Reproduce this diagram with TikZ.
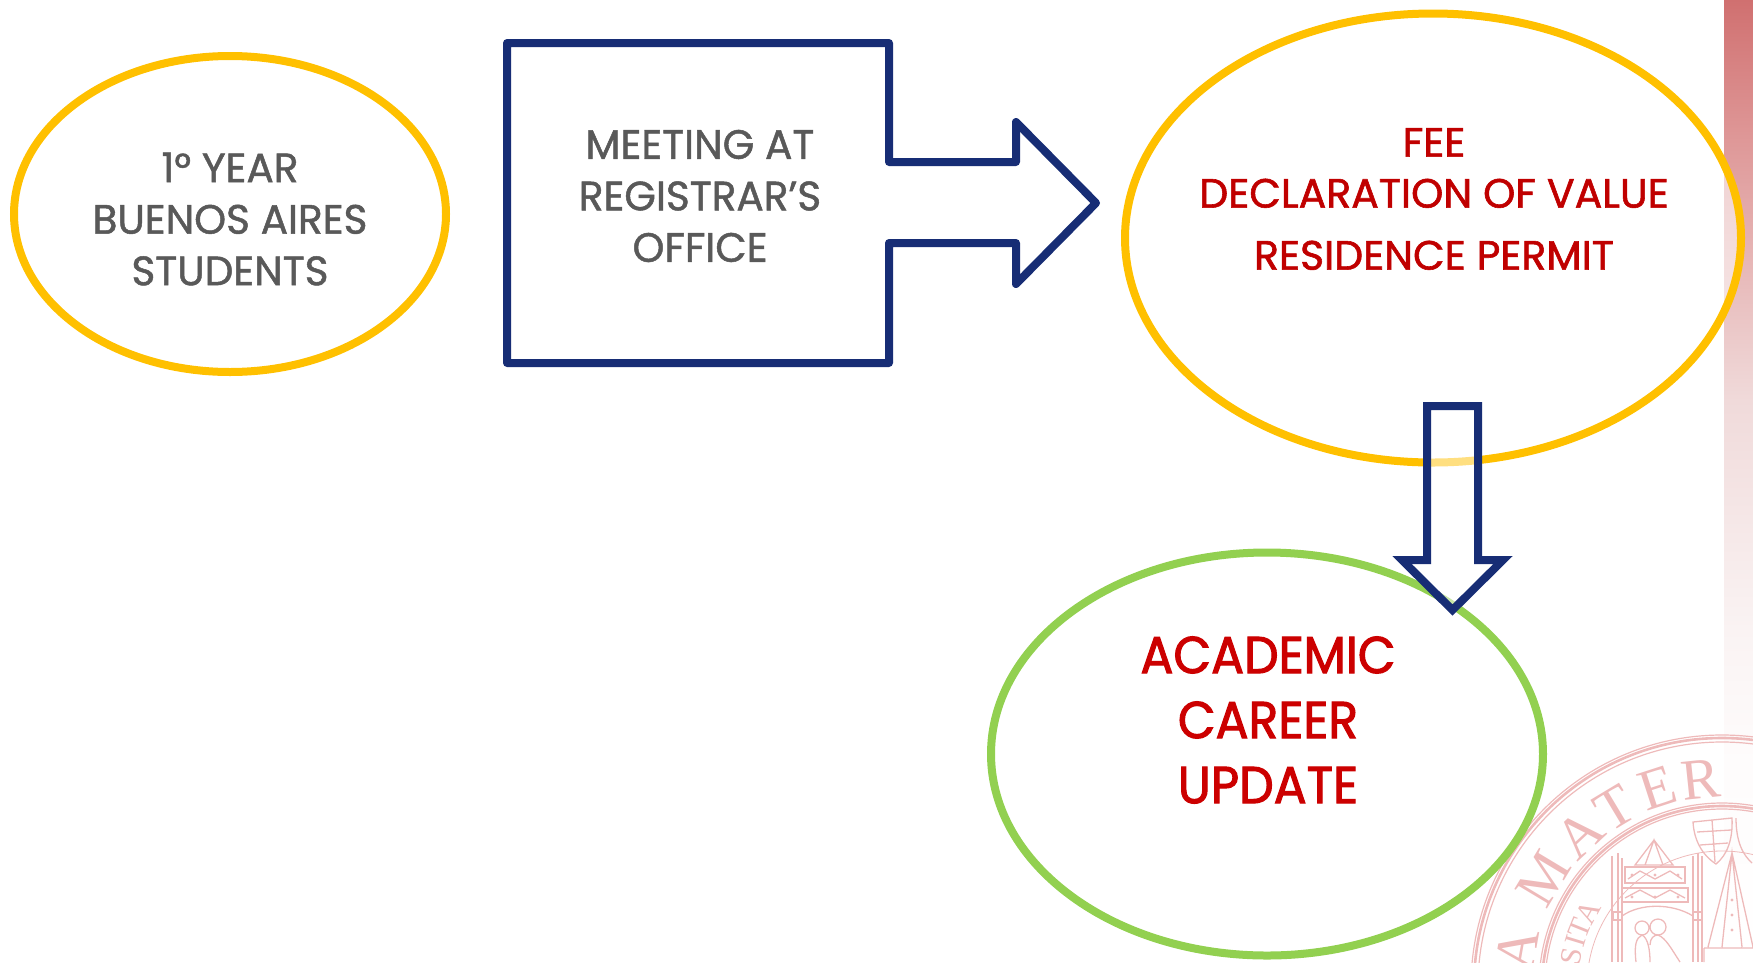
\documentclass[tikz,border=0pt]{standalone}
\usepackage{fontspec}
\usetikzlibrary{shapes.geometric,calc}
\setmainfont{Liberation Serif}
\newfontfamily\popg{Poppins}[FakeStretch=0.99,FakeBold=1.2]
\newfontfamily\popr{Poppins}[FakeStretch=1.0,FakeBold=1.4]
\newfontfamily\popa{Poppins}[FakeStretch=0.94,FakeBold=2]
\newfontfamily\sealf{Liberation Serif}
\definecolor{goldc}{RGB}{255,192,0}
\definecolor{greenc}{RGB}{146,208,80}
\definecolor{navyc}{RGB}{23,45,117}
\definecolor{grayt}{RGB}{89,89,89}
\definecolor{redt}{RGB}{192,0,0}
\definecolor{reda}{RGB}{204,0,0}
\definecolor{sealc}{RGB}{238,186,186}
\pgfdeclareverticalshading{stripshade}{100bp}{
 rgb(0bp)=(1,1,1); rgb(25bp)=(1,1,1);
 rgb(35.5bp)=(0.996,0.988,0.988);
 rgb(42.3bp)=(0.98,0.953,0.953);
 rgb(54.2bp)=(0.941,0.855,0.855);
 rgb(68.1bp)=(0.871,0.588,0.588);
 rgb(75bp)=(0.816,0.439,0.439);
 rgb(100bp)=(0.816,0.439,0.439)}
\tikzset{
 oval/.style={ellipse,draw,line width=8pt,fill=white,fill opacity=.55,inner sep=0pt,outer sep=0pt},
 blockarrow/.style={draw=navyc,line width=8pt,fill=white,fill opacity=.5},
 graytxt/.style={text=grayt,align=center,font=\popg\fontsize{41}{51.5}\selectfont,inner sep=0pt},
 redtxt/.style={text=redt,align=center,font=\popr\fontsize{41}{51}\selectfont,inner sep=0pt},
 bigtxt/.style={text=reda,align=center,font=\popa\fontsize{52}{65}\selectfont,inner sep=0pt},
 sealart/.style={draw=sealc,line width=1.3pt},
 sealbig/.style={text=sealc,inner sep=0pt,font=\sealf\fontsize{58}{58}\selectfont},
 sealsmall/.style={text=sealc,inner sep=0pt,font=\sealf\fontsize{30}{30}\selectfont},
}
\begin{document}
\begin{tikzpicture}[x=1pt,y=-1pt]
\useasboundingbox (0,0) rectangle (1753,962);
% side strip
\path[shading=stripshade] (1724,0) rectangle (1753,962);
% seal
\begin{scope}
\clip (0,0) rectangle (1753,962);
\coordinate (sc) at (1722,986);
\foreach \r/\w in {251/1.2,248/2.6,244/1.2,183/1.2,180/2.6,177/1.2,135/.8}
  \draw[draw=sealc,line width=\w pt] (sc) circle [radius=\r pt];
\foreach \n/\a/\t in {la/170/A,lm/149/M,lb/133/A,lt/121/T,le/108/E,lr/96/R}
  \node[sealbig,rotate=\a-90] (\n) at ($(sc)+(\a:208pt)$) {\t};
\foreach \n/\a/\t in {sa/151/A,st/158/T,si/163/I,ss/169/S}
  \node[sealsmall,rotate=\a-90] (\n) at ($(sc)+(\a:153pt)$) {\t};
% towers
\draw[sealart] (1612,856) -- (1612,962) (1618,853) -- (1618,962) (1622,858)--(1622,962);
\draw[sealart] (1693,856) -- (1693,962) (1698,853) -- (1698,962) (1702,856)--(1702,962);
\draw[sealart] (1635,865) -- (1654,840) -- (1673,865) -- cycle (1645,865) -- (1654,840) -- (1663,865);
\draw[sealart] (1625,867) rectangle (1685,883) (1622,888) rectangle (1688,902);
\draw[sealart] (1628,879) -- (1640,871) -- (1655,879) -- (1670,871) -- (1682,879);
\draw[sealart] (1625,898) -- (1640,890) -- (1655,898) -- (1670,890) -- (1685,898);
\foreach \x in {1632,1655,1678} \fill[sealc] (\x,875) circle [radius=1.6pt] (\x,897) circle [radius=1.6pt];
\draw[sealart] (1622,916) .. controls (1640,903) and (1672,903) .. (1693,916);
\draw[sealart] (1613,912) rectangle (1622,920) (1693,912) rectangle (1702,920);
% figures
\draw[sealart] (1642,928) circle [radius=7pt] (1658,927) circle [radius=8pt];
\draw[sealart] (1636,962) .. controls (1634,945) and (1636,938) .. (1642,935) .. controls (1648,938) and (1650,950) .. (1650,962);
\draw[sealart] (1650,945) .. controls (1650,938) and (1654,935) .. (1658,935) .. controls (1666,938) and (1672,950) .. (1680,962);
% shields and spire
\draw[sealart] (1693,822) -- (1732,818) .. controls (1733,840) and (1727,855) .. (1716,864) .. controls (1702,855) and (1694,840) .. (1693,822) -- cycle;
\draw[sealart] (1697,832) -- (1731,830) (1700,845) -- (1728,843) (1712,820) -- (1715,862);
\draw[sealart] (1736,818) .. controls (1736,842) and (1743,855) .. (1752,863);
\draw[sealart] (1708,947) -- (1732,853) -- (1753,947) (1722,947) -- (1732,853) -- (1742,947) (1704,948) -- (1753,948) (1704,962) -- (1704,948);
\foreach \y in {900,915,930} \fill[sealc] (1732,\y) circle [radius=1.6pt];
\end{scope}
% ovals
\node[oval,draw=greenc,minimum width=552pt,minimum height=403pt] (academic) at (1267,754) {};
\node[oval,draw=goldc,minimum width=616pt,minimum height=449pt] (fee) at (1433,238) {};
\node[oval,draw=goldc,minimum width=432pt,minimum height=316pt] (first) at (230,214) {};
% block arrows
\draw[blockarrow,line join=round] (507,43) -- (889,43) -- (889,162) -- (1016,162) -- (1016,122) -- (1096,203) -- (1016,284) -- (1016,243) -- (889,243) -- (889,363) -- (507,363) -- cycle;
\draw[blockarrow,line join=miter,miter limit=10] (1427,406) -- (1478,406) -- (1478,560) -- (1503,560) -- (1452.5,610) -- (1402,560) -- (1427,560) -- cycle;
% text
\node[graytxt] (t1) at (230,219) {1° YEAR\\BUENOS AIRES\\STUDENTS};
\node[graytxt] (t2) at (700,196) {MEETING AT\\REGISTRAR’S\\OFFICE};
\node[redtxt] (t3) at (1434,199) {FEE\\DECLARATION OF VALUE\\[11pt]RESIDENCE PERMIT};
\node[bigtxt] (t4) at (1268,720) {ACADEMIC\\CAREER\\UPDATE};
\end{tikzpicture}
\end{document}
